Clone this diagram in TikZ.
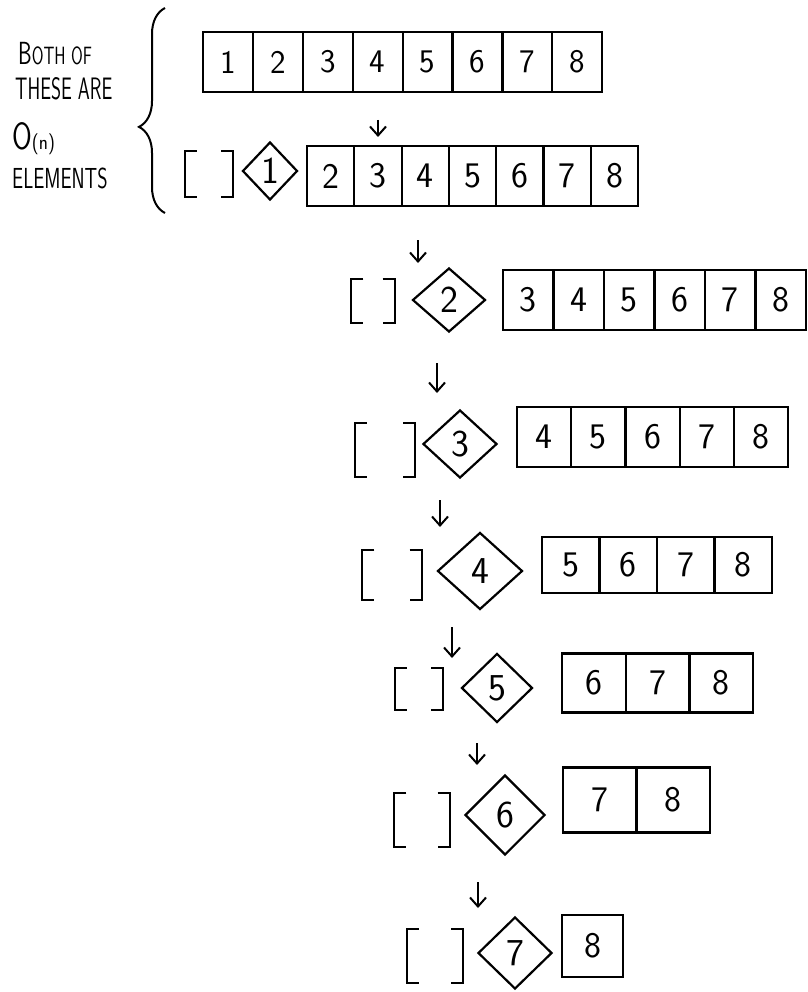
\documentclass[tikz,border=0pt]{standalone}
\usepackage{fontspec}
\usetikzlibrary{arrows.meta}
\usetikzlibrary{shapes.geometric}
\usetikzlibrary{decorations.pathreplacing}

\tikzset{
  cell/.style={draw, line width=2.2pt, inner sep=0pt,
    font=\sffamily\fontsize{36}{38}\selectfont},
  pivot/.style={draw, diamond, line width=2.2pt, inner sep=0pt,
    font=\sffamily\fontsize{38}{40}\selectfont},
  emptylist/.style={inner sep=0pt},
  bracket/.style={line width=2.2pt},
  down/.style={-{Straight Barb[length=9pt,width=16pt]}, line width=2pt},
  remark/.style={anchor=west, inner sep=0pt, font=\sffamily},
}

\begin{document}
\begin{tikzpicture}[x=1pt, y=-1pt]
\useasboundingbox (0,0) rectangle (807,992);

% left remark
\node[remark] (both)  at (18,54)
  {\scalebox{0.68}[1]{{\fontsize{32}{34}\selectfont B}\fontsize{25}{27}\selectfont OTH OF}};
\node[remark] (these) at (15,89)
  {\scalebox{0.62}[1]{\fontsize{31}{33}\selectfont THESE ARE}};
\node[remark] (order) at (12,139)
  {\scalebox{0.75}[1]{\fontsize{38}{40}\selectfont O}\scalebox{0.9}[1]{\fontsize{21}{23}\selectfont (n)}};
\node[remark] (elems) at (12,178)
  {\scalebox{0.68}[1]{\fontsize{29}{31}\selectfont ELEMENTS}};
\draw[decorate, decoration={brace, amplitude=26pt, aspect=0.42}, line width=2pt]
  (165,213) -- (165,8);

% the whole list
\foreach \k in {1,...,8}{
  \node[cell, font=\sffamily\fontsize{33}{35}\selectfont, minimum width=49.9pt, minimum height=60pt]
    (c0-\k) at ({203+(\k-0.5)*49.9},62) {\k};
}

% one step per row: [ ], pivot, rest of the list
\foreach \r/\bx/\by/\bw/\bh/\dx/\dy/\dw/\dh/\ax/\ay/\cw/\ch/\tx/\ty/\hy in {
  1/209/174/48/45/270/171/55/58/307/176/47.3/60/378/120/137,
  2/373/301/43/43/449/300/73/64/503/300/50.5/60/418/240/263,
  3/385/450/60/54/460/444/74/68/517/437/54.2/60/437/363/393,
  4/392/575/59/50/480/571/85/77/542/565/57.5/56/440/500/527,
  5/419/689/48/42/497/688/71/69/562/683/63.7/59/452/627/658,
  6/422/820/55/54/505/815/80/80/563/800/73.5/65/477/743/765,
  7/435/956/56/53/515/953/74/72/562/946/61/62/478/882/908}{
  \coordinate (t\r) at (\tx,\ty);
  \coordinate (h\r) at (\tx,\hy);
  \draw[down] (t\r) -- (h\r);

  \node[emptylist, minimum width=\bw pt, minimum height=\bh pt] (e\r) at (\bx,\by) {};
  \draw[bracket] ([xshift=12pt]e\r.north west) -- (e\r.north west)
    -- (e\r.south west) -- ([xshift=12pt]e\r.south west);
  \draw[bracket] ([xshift=-12pt]e\r.north east) -- (e\r.north east)
    -- (e\r.south east) -- ([xshift=-12pt]e\r.south east);

  \node[pivot, minimum width=\dw pt, minimum height=\dh pt] (d\r) at (\dx,\dy) {\r};

  \pgfmathtruncatemacro{\first}{\r+1}
  \foreach \k in {\first,...,8}{
    \node[cell, minimum width=\cw pt, minimum height=\ch pt]
      (c\r-\k) at ({\ax+(\k-\r-0.5)*\cw},\ay) {\k};
  }
}
\end{tikzpicture}
\end{document}
